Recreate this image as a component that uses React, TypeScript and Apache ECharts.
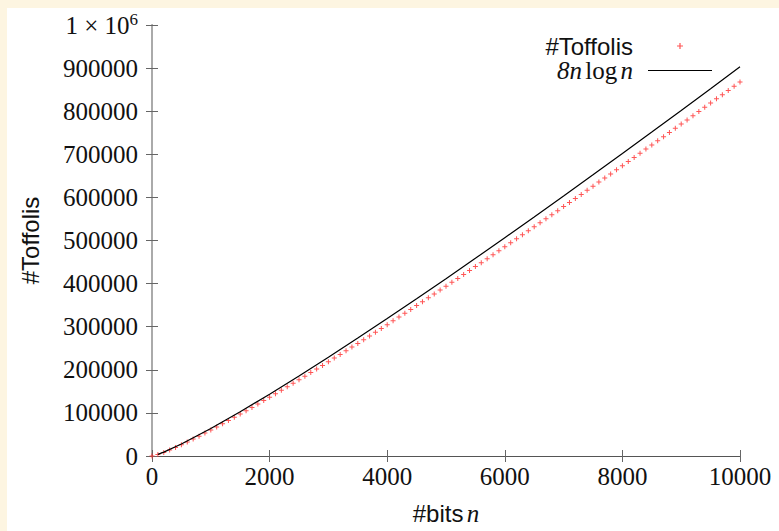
import React, { useEffect, useRef } from 'react';
import * as echarts from 'echarts';

// #Toffolis data points (red "+" markers)
const bitsN = [
  0, 100, 200, 300, 400, 500, 600, 700, 800, 900, 1000,
  1100, 1200, 1300, 1400, 1500, 1600, 1700, 1800, 1900, 2000,
  2100, 2200, 2300, 2400, 2500, 2600, 2700, 2800, 2900, 3000,
  3100, 3200, 3300, 3400, 3500, 3600, 3700, 3800, 3900, 4000,
  4100, 4200, 4300, 4400, 4500, 4600, 4700, 4800, 4900, 5000,
  5100, 5200, 5300, 5400, 5500, 5600, 5700, 5800, 5900, 6000,
  6100, 6200, 6300, 6400, 6500, 6600, 6700, 6800, 6900, 7000,
  7100, 7200, 7300, 7400, 7500, 7600, 7700, 7800, 7900, 8000,
  8100, 8200, 8300, 8400, 8500, 8600, 8700, 8800, 8900, 9000,
  9100, 9200, 9300, 9400, 9500, 9600, 9700, 9800, 9900, 10000,
];
const toffolis = [
  0, 3400, 8300, 13900, 19900, 26100, 32600, 39300, 46100, 53100, 60200,
  67400, 74800, 82200, 89700, 97300, 105000, 112800, 120600, 128500, 136400,
  144400, 152500, 160600, 168700, 177000, 185200, 193500, 201900, 210200, 218700,
  227100, 235600, 244200, 252700, 261300, 270000, 278600, 287300, 296100, 304800,
  313600, 322400, 331300, 340100, 349000, 358000, 366900, 375900, 384900, 393900,
  403000, 412000, 421100, 430200, 439400, 448500, 457700, 466900, 476100, 485300,
  494600, 503800, 513100, 522400, 531800, 541100, 550500, 559900, 569200, 578700,
  588100, 597500, 607000, 616500, 626000, 635500, 645000, 654500, 664100, 673700,
  683200, 692800, 702400, 712100, 721700, 731400, 741000, 750700, 760400, 770100,
  779800, 789500, 799300, 809000, 818800, 828600, 838400, 848200, 858000, 867800,
];

// 8n log n reference curve (black line)
const curveN = [100, 200, 500, 1000, 1500, 2000, 2500, 3000, 3500, 4000, 4500, 5000,
  5500, 6000, 6500, 7000, 7500, 8000, 8500, 9000, 9500, 10000];
const curveVals = [3700, 9000, 27900, 63700, 102600, 143500, 185800, 229200, 273600, 318900,
  364900, 411500, 458700, 506400, 554600, 603300, 652400, 701800, 751600, 801800, 852200, 903000];

const seriesNames = ['#Toffolis', '8n log n'];
const xLabel = '#bits';
const yLabel = '#Toffolis';

export default function App() {
  const ref = useRef<HTMLDivElement>(null);
  useEffect(() => {
    document.body.style.margin = '0';
    const chart = echarts.init(ref.current!, null, { renderer: 'svg' });
    const serif = '"Liberation Serif", "DejaVu Serif", serif';
    const sans = '"Liberation Sans", "DejaVu Sans", sans-serif';
    const cream = '#fdf5e1';
    const plus = 'path://M4,0H6V4H10V6H6V10H4V6H0V4H4Z';
    const lineIcon = 'path://M0,0H64V1H0Z';
    const tickStyle = { inside: true, length: 6, lineStyle: { color: '#666', width: 1 } };
    chart.setOption({
      animation: false,
      backgroundColor: '#ffffff',
      graphic: [
        { type: 'rect', silent: true, shape: { x: 0, y: 0, width: 779, height: 8 }, style: { fill: cream } },
        { type: 'rect', silent: true, shape: { x: 0, y: 0, width: 7, height: 531 }, style: { fill: cream } },
      ],
      grid: { left: 152, right: 39, top: 25, bottom: 71 },
      legend: {
        orient: 'vertical',
        right: 62,
        top: 29,
        align: 'right',
        itemWidth: 64,
        itemHeight: 6,
        itemGap: 0,
        data: [{ name: seriesNames[0], icon: plus }, { name: seriesNames[1], icon: lineIcon }],
        formatter: (name: string) =>
          name === seriesNames[0] ? '{sf|#Toffolis}' : '{it|8n} {rm|log} {it|n}',
        textStyle: {
          padding: [0, 10, 0, 0],
          lineHeight: 24,
          rich: {
            sf: { fontFamily: sans, fontSize: 24, color: '#111', lineHeight: 24 },
            it: { fontFamily: serif, fontStyle: 'italic', fontSize: 25, color: '#111', lineHeight: 24 },
            rm: { fontFamily: serif, fontSize: 25, color: '#111', lineHeight: 24 },
          },
        },
      },
      xAxis: [
        {
          type: 'value', min: 0, max: 10000, interval: 2000, position: 'bottom',
          axisLine: { lineStyle: { color: '#555', width: 1 } },
          axisTick: tickStyle,
          splitLine: { show: false },
          axisLabel: {
            color: '#111', fontFamily: serif, fontSize: 25, margin: 8,
            formatter: (v: number) => String(v),
          },
          name: '{sf|' + xLabel + '} {it|n}',
          nameLocation: 'middle',
          nameGap: 45,
          nameTextStyle: {
            rich: {
              sf: { fontFamily: sans, fontSize: 24, color: '#111' },
              it: { fontFamily: serif, fontStyle: 'italic', fontSize: 25, color: '#111' },
            },
          },
        },
        {
          type: 'value', min: 0, max: 10000, interval: 2000, position: 'top',
          axisLine: { lineStyle: { color: '#555', width: 1 } },
          axisTick: tickStyle,
          splitLine: { show: false },
          axisLabel: { show: false },
        },
      ],
      yAxis: [
        {
          type: 'value', min: 0, max: 1000000, interval: 100000, position: 'left',
          axisLine: { show: true, lineStyle: { color: '#777', width: 1 } },
          axisTick: { show: true, ...tickStyle },
          splitLine: { show: false },
          axisLabel: {
            color: '#111', fontFamily: serif, fontSize: 25, margin: 14,
            formatter: (v: number) => (v === 1000000 ? '{a|1 × 10}{s|6}' : String(v)),
            rich: {
              a: { fontFamily: serif, fontSize: 25, color: '#111' },
              s: { fontFamily: serif, fontSize: 17, color: '#111', padding: [0, 0, 12, 0] },
            },
          },
          name: yLabel,
          nameLocation: 'middle',
          nameRotate: 90,
          nameGap: 110,
          nameTextStyle: { fontFamily: sans, fontSize: 24, color: '#111' },
        },
        {
          type: 'value', min: 0, max: 1000000, interval: 100000, position: 'right',
          axisLine: { show: true, lineStyle: { color: '#aaa', width: 2 } },
          axisTick: { show: true, ...tickStyle },
          splitLine: { show: false },
          axisLabel: { show: false },
        },
      ],
      series: [
        {
          name: seriesNames[0],
          type: 'scatter',
          symbol: plus,
          symbolSize: 5,
          itemStyle: { color: '#ff2a2a' },
          data: bitsN.map((n, i) => [n, toffolis[i]]),
          z: 2,
        },
        {
          name: seriesNames[1],
          type: 'line',
          symbol: 'none',
          lineStyle: { color: '#000', width: 1.2 },
          itemStyle: { color: '#000' },
          data: curveN.map((n, i) => [n, curveVals[i]]),
          z: 3,
        },
      ],
    });
    return () => chart.dispose();
  }, []);
  return <div ref={ref} style={{ width: 779, height: 531 }} />;
}
